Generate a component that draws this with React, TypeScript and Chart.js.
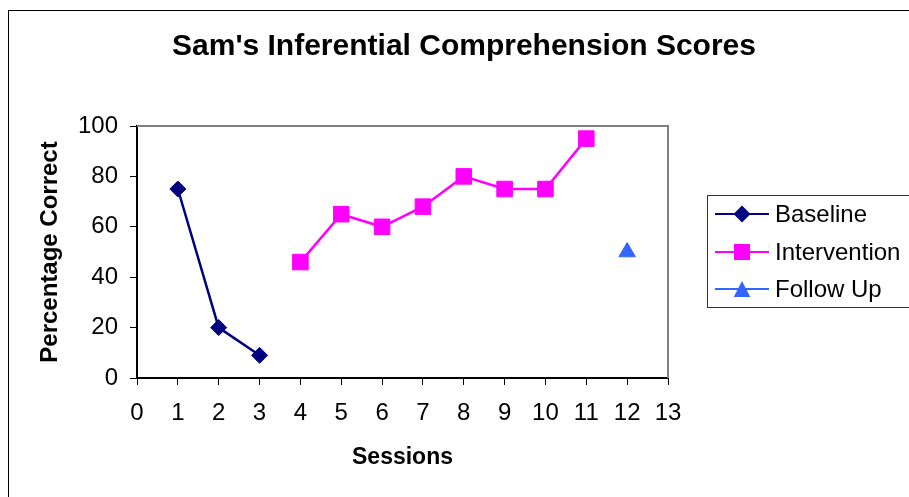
import React, { useEffect, useRef } from "react";
import { Chart, registerables } from "chart.js";

Chart.register(...registerables);

const chartTitle = "Sam's Inferential Comprehension Scores";
const xAxisTitle = "Sessions";
const yAxisTitle = "Percentage Correct";

const seriesNames = ["Baseline", "Intervention", "Follow Up"];
const seriesColors = ["#000080", "#FF00FF", "#3366FF"];
const seriesMarkers = ["rectRot", "rect", "triangle"];

const baselineSessions = [1, 2, 3];
const baselineScores = [75, 20, 9];
const interventionSessions = [4, 5, 6, 7, 8, 9, 10, 11];
const interventionScores = [46, 65, 60, 68, 80, 75, 75, 95];
const followUpSessions = [12];
const followUpScores = [50];

const xMin = 0;
const xMax = 13;
const xStep = 1;
const yMin = 0;
const yMax = 100;
const yStep = 20;

const FONT = "'Liberation Sans', Arial, Helvetica, sans-serif";

function toPoints(xs: number[], ys: number[]) {
  return xs.map((x, i) => ({ x, y: ys[i] }));
}

function drawMarker(ctx: CanvasRenderingContext2D, style: string, x: number, y: number, color: string) {
  ctx.save();
  ctx.fillStyle = color;
  ctx.beginPath();
  if (style === "rectRot") {
    const r = 8.5;
    ctx.moveTo(x, y - r);
    ctx.lineTo(x + r, y);
    ctx.lineTo(x, y + r);
    ctx.lineTo(x - r, y);
    ctx.closePath();
  } else if (style === "rect") {
    const h = 8;
    ctx.rect(x - h, y - h, 2 * h, 2 * h);
  } else {
    const w = 8.3;
    const h = 8;
    ctx.moveTo(x, y - h);
    ctx.lineTo(x + w, y + h);
    ctx.lineTo(x - w, y + h);
    ctx.closePath();
  }
  ctx.fill();
  ctx.restore();
}

const decorPlugin = {
  id: "decor",
  afterDraw(chart: any) {
    const ctx: CanvasRenderingContext2D = chart.ctx;
    const { top, right } = chart.chartArea;
    ctx.save();
    // gray top / right plot border
    ctx.strokeStyle = "#808080";
    ctx.lineWidth = 2;
    ctx.beginPath();
    ctx.moveTo(chart.chartArea.left, top);
    ctx.lineTo(right, top);
    ctx.lineTo(right, chart.chartArea.bottom);
    ctx.stroke();

    // title
    ctx.fillStyle = "#000";
    ctx.font = `bold 30px ${FONT}`;
    ctx.textAlign = "center";
    ctx.textBaseline = "middle";
    ctx.fillText(chartTitle, 464, 47);

    // legend box
    ctx.strokeStyle = "#333";
    ctx.lineWidth = 1;
    ctx.strokeRect(707.5, 195.5, 240, 112);
    const itemY = [214, 252, 289];
    chart.data.datasets.forEach((ds: any, i: number) => {
      const y = itemY[i];
      ctx.strokeStyle = ds.borderColor;
      ctx.lineWidth = 2;
      ctx.beginPath();
      ctx.moveTo(715, y);
      ctx.lineTo(769, y);
      ctx.stroke();
      drawMarker(ctx, seriesMarkers[i], 742, y, ds.borderColor);
      ctx.fillStyle = "#000";
      ctx.font = `24px ${FONT}`;
      ctx.textAlign = "left";
      ctx.textBaseline = "middle";
      ctx.fillText(ds.label, 775, y + 1);
    });
    ctx.restore();
  },
};

export default function App() {
  const canvasRef = useRef<HTMLCanvasElement | null>(null);

  useEffect(() => {
    if (!canvasRef.current) return;
    Chart.defaults.font.family = FONT;
    const chart = new Chart(canvasRef.current, {
      type: "scatter",
      data: {
        datasets: [
          {
            label: seriesNames[0],
            data: toPoints(baselineSessions, baselineScores),
            borderColor: seriesColors[0],
            backgroundColor: seriesColors[0],
            pointStyle: seriesMarkers[0] as any,
            pointRadius: 8,
            pointBorderWidth: 1,
            borderWidth: 2.5,
            showLine: true,
          },
          {
            label: seriesNames[1],
            data: toPoints(interventionSessions, interventionScores),
            borderColor: seriesColors[1],
            backgroundColor: seriesColors[1],
            pointStyle: seriesMarkers[1] as any,
            pointRadius: 11,
            pointBorderWidth: 1,
            borderWidth: 2.5,
            showLine: true,
          },
          {
            label: seriesNames[2],
            data: toPoints(followUpSessions, followUpScores),
            borderColor: seriesColors[2],
            backgroundColor: seriesColors[2],
            pointStyle: seriesMarkers[2] as any,
            pointRadius: 9.5,
            pointBorderWidth: 1,
            borderWidth: 2.5,
            showLine: false,
          },
        ],
      },
      options: {
        animation: false,
        responsive: false,
        maintainAspectRatio: false,
        layout: { padding: { left: 36, top: 126, right: 241, bottom: 26 } },
        plugins: {
          legend: { display: false },
          title: { display: false },
          tooltip: { enabled: false },
        },
        scales: {
          x: {
            type: "linear",
            min: xMin,
            max: xMax,
            afterFit: (s: any) => {
              s.height = 93;
            },
            ticks: {
              stepSize: xStep,
              color: "#000",
              font: { size: 24 },
              padding: 14,
              maxRotation: 0,
              autoSkip: false,
            },
            grid: {
              drawOnChartArea: false,
              drawTicks: true,
              tickLength: 7,
              color: "#000",
              lineWidth: 1,
            },
            border: { color: "#000", width: 2 },
            title: {
              display: true,
              text: xAxisTitle,
              color: "#000",
              font: { size: 23, weight: "bold" },
              padding: 0,
            },
          },
          y: {
            type: "linear",
            min: yMin,
            max: yMax,
            afterFit: (s: any) => {
              s.width = 101;
            },
            ticks: {
              stepSize: yStep,
              color: "#000",
              font: { size: 24 },
              padding: 12,
            },
            grid: {
              drawOnChartArea: false,
              drawTicks: true,
              tickLength: 7,
              color: "#000",
              lineWidth: 1,
            },
            border: { color: "#000", width: 2 },
            title: {
              display: true,
              text: yAxisTitle,
              color: "#000",
              font: { size: 24, weight: "bold" },
              padding: 0,
            },
          },
        },
      },
      plugins: [decorPlugin],
    });
    return () => chart.destroy();
  }, []);

  return (
    <div style={{ position: "fixed", left: 0, top: 0, width: 909, height: 497, overflow: "hidden", background: "#fff" }}>
      <canvas ref={canvasRef} width={909} height={497} style={{ display: "block", width: 909, height: 497 }} />
      <div
        style={{
          position: "absolute",
          left: 8,
          top: 10,
          width: 1000,
          height: 600,
          borderLeft: "1px solid #000",
          borderTop: "1px solid #000",
          pointerEvents: "none",
        }}
      />
    </div>
  );
}
